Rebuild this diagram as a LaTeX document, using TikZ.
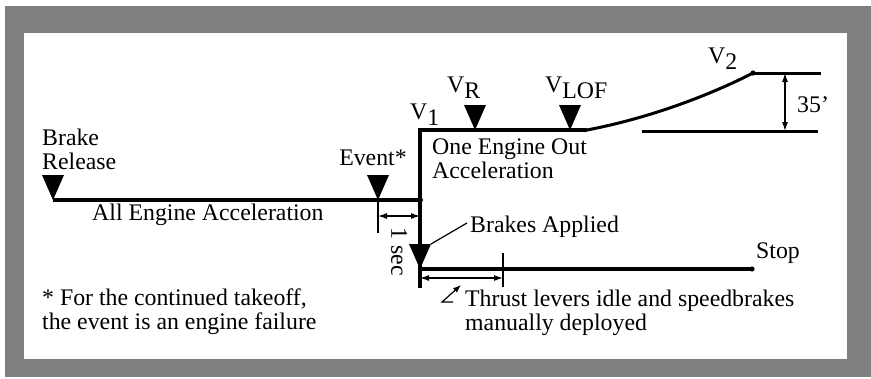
\documentclass[tikz,border=0pt]{standalone}
\usepackage{fontspec}
\setmainfont{Liberation Serif}
\usetikzlibrary{arrows.meta}

\definecolor{framegray}{RGB}{128,128,128}
\tikzset{
  track/.style={line width=4pt},
  dimline/.style={line width=1.2pt},
  dimarrow/.style={dimline,{Latex[length=9pt,width=6pt]}-{Latex[length=9pt,width=6pt]}},
  lbl/.style={font=\fontsize{23.8}{24}\selectfont, inner sep=0pt, align=left},
}
\newcommand\tmark[1]{\fill (#1) -- ++(-11,-25) -- ++(22,0) -- cycle;}
\newcommand\vsub[1]{V\raisebox{-6pt}{#1}}

\begin{document}
\begin{tikzpicture}[x=1pt,y=-1pt]
  % frame
  \fill[framegray] (5,6) rectangle (871,377);
  \fill[white] (24,33) rectangle (847,359);
  \useasboundingbox (0,0) rectangle (871,378);

  % points on the path
  \coordinate (brk) at (53,200);
  \coordinate (evt) at (378,200);
  \coordinate (v1) at (420,200);
  \coordinate (v1up) at (420,130);
  \coordinate (vr) at (475,130);
  \coordinate (vlof) at (570,130);
  \coordinate (lift) at (587,130);
  \coordinate (v2) at (753,73);
  \coordinate (bapp) at (420,269);
  \coordinate (vend) at (420,288);
  \coordinate (stop) at (752,269);

  \draw[track] (brk) -- (v1);
  \draw[track] (lift) -- (v1up) -- (vend);
  \draw[track] (bapp) -- (stop);
  \draw[line width=3pt] (lift) .. controls (650,118) and (710,95) .. (v2);
  \fill (v1) circle (3);
  \fill (v2) circle (2.6);
  \fill (stop) circle (2.6);

  \tmark{brk}
  \tmark{evt}
  \tmark{vr}
  \tmark{vlof}
  \tmark{bapp}

  % 35 ft screen height
  \coordinate (scrtop) at (821,73);
  \coordinate (scrlow0) at (642,131);
  \coordinate (scrlow1) at (818,131);
  \coordinate (scra) at (785,73);
  \coordinate (scrb) at (785,131);
  \draw[line width=3pt] (v2) -- (scrtop);
  \draw[line width=3pt] (scrlow0) -- (scrlow1);
  \draw[dimarrow] (scra) -- (scrb);

  % 1 sec
  \coordinate (evtb) at (378,233);
  \coordinate (seca) at (378,216);
  \coordinate (secb) at (420,216);
  \draw[line width=2pt] (evt) -- (evtb);
  \draw[dimarrow] (seca) -- (secb);
  \node[lbl, rotate=-90] (sec) at (399,252) {1 sec};

  % idle
  \coordinate (idlet) at (503,253);
  \coordinate (idleb) at (503,287);
  \coordinate (idlea) at (420,278);
  \coordinate (idlec) at (503,278);
  \draw[line width=2pt] (idlet) -- (idleb);
  \draw[dimarrow] (idlea) -- (idlec);
  \coordinate (ptr0) at (453,302);
  \coordinate (ptr1) at (442,302);
  \coordinate (ptr2) at (461,285);
  \draw[dimline, -{Latex[length=8pt,width=6pt]}] (ptr0) -- (ptr1) -- (ptr2);

  % leader to brakes applied
  \coordinate (lead0) at (431,244);
  \coordinate (lead1) at (467,223);
  \draw[dimline] (lead0) -- (lead1);

  % labels (multi-line ones sit on their last baseline)
  \node[lbl, anchor=base west] (brtxt) at (42,169) {Brake\\Release};
  \node[lbl, anchor=base] (evtxt) at (373,165) {Event*};
  \node[lbl, anchor=base west] (alltxt) at (92,220) {All Engine Acceleration};
  \node[lbl, anchor=base west] (oeitxt) at (432,178) {One Engine Out\\Acceleration};
  \node[lbl, anchor=base west] (v1txt) at (410,119) {\vsub{1}};
  \node[lbl, anchor=base west] (vrtxt) at (447,92) {\vsub{R}};
  \node[lbl, anchor=base west] (voftxt) at (545,92) {\vsub{LOF}};
  \node[lbl, anchor=base west] (v2txt) at (708,63) {\vsub{2}};
  \node[lbl, anchor=base west] (fttxt) at (797,112) {35'};
  \node[lbl, anchor=base west] (bapptxt) at (470,232) {Brakes Applied};
  \node[lbl, anchor=base west] (stoptxt) at (756,258) {Stop};
  \node[lbl, anchor=base west] (idletxt) at (465,330) {Thrust levers idle and speedbrakes\\manually deployed};
  \node[lbl, anchor=base west] (notetxt) at (42,329) {* For the continued takeoff,\\the event is an engine failure};
\end{tikzpicture}
\end{document}
